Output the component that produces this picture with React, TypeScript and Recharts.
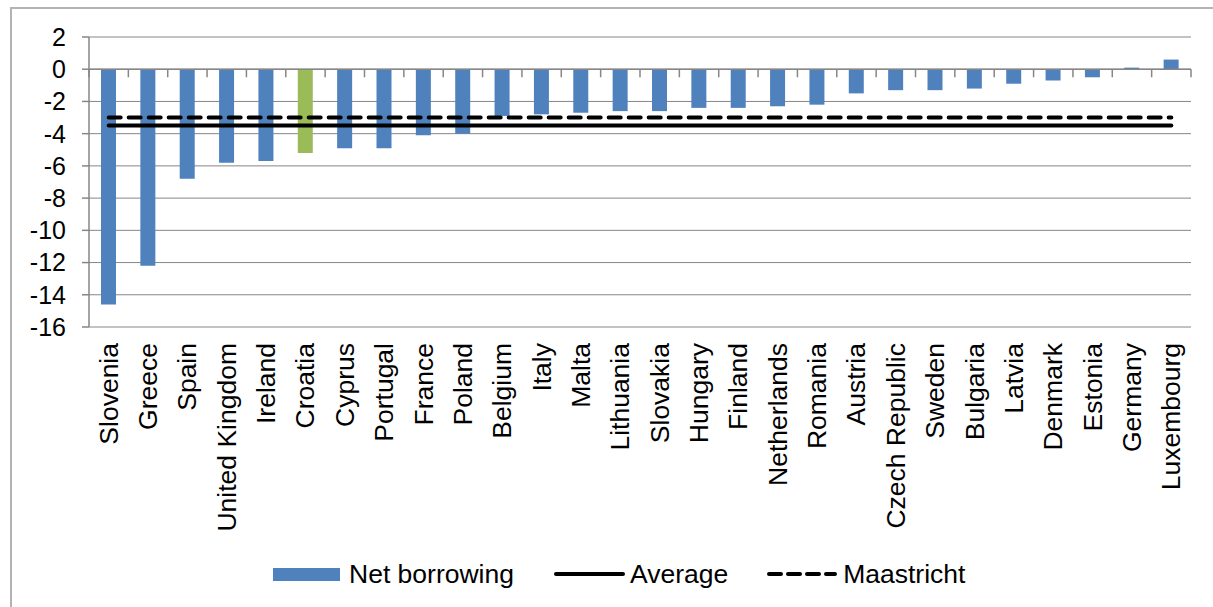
import React from 'react';
import {
  ComposedChart,
  Bar,
  Cell,
  Line,
  XAxis,
  YAxis,
  CartesianGrid,
  ReferenceLine,
  Legend,
} from 'recharts';

const countries = [
  'Slovenia', 'Greece', 'Spain', 'United Kingdom', 'Ireland', 'Croatia', 'Cyprus',
  'Portugal', 'France', 'Poland', 'Belgium', 'Italy', 'Malta', 'Lithuania',
  'Slovakia', 'Hungary', 'Finland', 'Netherlands', 'Romania', 'Austria',
  'Czech Republic', 'Sweden', 'Bulgaria', 'Latvia', 'Denmark', 'Estonia',
  'Germany', 'Luxembourg',
];

const netBorrowing = [
  -14.6, -12.2, -6.8, -5.8, -5.7, -5.2, -4.9,
  -4.9, -4.1, -4.0, -2.9, -2.8, -2.7, -2.6,
  -2.6, -2.4, -2.4, -2.3, -2.2, -1.5,
  -1.3, -1.3, -1.2, -0.9, -0.7, -0.5,
  0.1, 0.6,
];

const averageLevel = -3.5;
const maastrichtLimit = -3;

const yMin = -16;
const yMax = 2;
const yTicks = [2, 0, -2, -4, -6, -8, -10, -12, -14, -16];

const highlighted = 'Croatia';

const BLUE = '#4F81BD';
const GREEN = '#9BBB59';
const GRID = '#868686';
const FONT = '"Liberation Sans", Arial, sans-serif';

const rows = countries.map((country, i) => ({
  country,
  netBorrowing: netBorrowing[i],
  average: averageLevel,
  maastricht: maastrichtLimit,
}));

const CountryTick = ({ x, y, payload }: any) => (
  <text
    x={x}
    y={y}
    transform={`rotate(-90, ${x}, ${y})`}
    textAnchor="end"
    dominantBaseline="central"
    fontFamily={FONT}
    fontSize={26.5}
    fill="#000"
  >
    {payload.value}
  </text>
);

const LegendBox = () => (
  <div
    style={{
      display: 'flex',
      alignItems: 'center',
      paddingLeft: 273,
      height: 50,
      fontFamily: FONT,
      fontSize: 26.5,
      color: '#000',
      whiteSpace: 'nowrap',
    }}
  >
    <div style={{ width: 67, height: 13, background: BLUE, marginRight: 9 }} />
    <span style={{ marginRight: 40 }}>Net borrowing</span>
    <svg width={71} height={10} style={{ marginRight: 5 }}>
      <line x1={2} y1={5} x2={69} y2={5} stroke="#000" strokeWidth={4} strokeLinecap="round" />
    </svg>
    <span style={{ marginRight: 38 }}>Average</span>
    <svg width={71} height={10} style={{ marginRight: 6 }}>
      <line
        x1={3}
        y1={5}
        x2={69}
        y2={5}
        stroke="#000"
        strokeWidth={4}
        strokeDasharray="12 7"
        strokeLinecap="round"
      />
    </svg>
    <span>Maastricht</span>
  </div>
);

export default function App() {
  const last = countries[countries.length - 1];
  return (
    <div style={{ position: 'relative', width: 1213, height: 607, overflow: 'hidden', background: '#fff' }}>
      <style>{'body{margin:0;overflow:hidden}'}</style>
      {/* chart area frame */}
      <div
        style={{
          position: 'absolute',
          left: 10,
          top: 7,
          width: 1300,
          height: 700,
          borderLeft: '2px solid #b3b3b3',
          borderTop: '2px solid #b3b3b3',
        }}
      />
      <ComposedChart
        width={1213}
        height={607}
        data={rows}
        margin={{ top: 37, right: 22, bottom: 8, left: 0 }}
        style={{ position: 'absolute', left: 0, top: 0 }}
      >
        <CartesianGrid horizontal vertical={false} stroke={GRID} strokeWidth={1} />
        <XAxis
          dataKey="country"
          interval={0}
          axisLine={false}
          tickLine={false}
          tickSize={0}
          tickMargin={16}
          height={222}
          tick={<CountryTick />}
        />
        <YAxis
          type="number"
          domain={[yMin, yMax]}
          ticks={yTicks}
          interval={0}
          width={89}
          axisLine={{ stroke: GRID, strokeWidth: 1.5 }}
          tickLine={{ stroke: GRID, strokeWidth: 1.5 }}
          tickSize={7}
          tickMargin={16}
          tick={{ fontFamily: FONT, fontSize: 25, fill: '#000' }}
        />
        {/* category boundary ticks hanging below the zero line */}
        {countries.map((c) => (
          <ReferenceLine
            key={`tick-${c}`}
            segment={[{ x: c, y: 0 }, { x: c, y: -0.5 }]}
            position="start"
            stroke={GRID}
            strokeWidth={1.5}
          />
        ))}
        <ReferenceLine
          segment={[{ x: last, y: 0 }, { x: last, y: -0.5 }]}
          position="end"
          stroke={GRID}
          strokeWidth={1.5}
        />
        <ReferenceLine y={0} stroke={GRID} strokeWidth={1.5} />
        <Bar dataKey="netBorrowing" name="Net borrowing" barSize={15} isAnimationActive={false}>
          {rows.map((r) => (
            <Cell key={r.country} fill={r.country === highlighted ? GREEN : BLUE} />
          ))}
        </Bar>
        <Line
          dataKey="average"
          name="Average"
          stroke="#000"
          strokeWidth={4}
          strokeLinecap="round"
          dot={false}
          activeDot={false}
          isAnimationActive={false}
        />
        <Line
          dataKey="maastricht"
          name="Maastricht"
          stroke="#000"
          strokeWidth={4}
          strokeDasharray="12 8"
          strokeLinecap="round"
          dot={false}
          activeDot={false}
          isAnimationActive={false}
        />
        <Legend
          verticalAlign="bottom"
          height={50}
          content={<LegendBox />}
          wrapperStyle={{ left: 0, width: 1213 }}
        />
      </ComposedChart>
    </div>
  );
}
